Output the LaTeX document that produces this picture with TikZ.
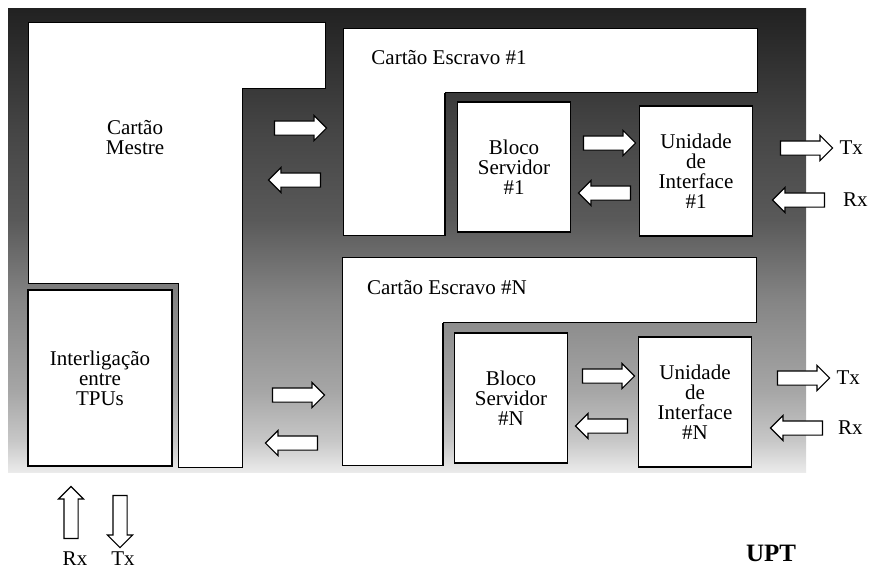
\documentclass[tikz,border=0pt]{standalone}
\usepackage{fontspec}
\setmainfont{Liberation Serif}
\usetikzlibrary{shapes.arrows,positioning}

\pgfdeclareverticalshading{fundo}{100bp}{color(0bp)=(black!8); color(25bp)=(black!8);
  color(28.4bp)=(black!22); color(33.8bp)=(black!35); color(43.5bp)=(black!48);
  color(52.2bp)=(black!65); color(61.9bp)=(black!73); color(75bp)=(black!87); color(100bp)=(black!87)}

\begin{document}
\begin{tikzpicture}[
  x=1pt,y=-1pt,
  card/.style={draw,fill=white,line width=1pt},
  block/.style={draw,fill=white,line width=1.2pt,align=center,minimum width=113pt,minimum height=130pt,font=\fontsize{21}{20}\selectfont},
  txt/.style={align=center,inner sep=1pt,font=\fontsize{21}{20}\selectfont},
  fat/.style={single arrow,draw,fill=white,line width=1.1pt,minimum height=52pt,inner sep=6.5pt,single arrow head extend=5.5pt}
]
\useasboundingbox (0,0) rectangle (869,571);
% fundo
\shade[shading=fundo] (8,8) rectangle (806,472);

% cartao mestre
\draw[card] (28,22) -- (325,22) -- (325,88) -- (242,88) -- (242,467) -- (178,467) -- (178,283) -- (28,283) -- cycle;
\node[txt] (mestre) at (135,138) {Cartão\\Mestre};
\node[block,minimum width=144pt,minimum height=176pt] (tpu) at (100,378) {Interligação\\entre\\TPUs};

% cartoes escravos
\draw[card] (343,28) -- (757,28) -- (757,92) -- (445,92) -- (445,235) -- (343,235) -- cycle;
\draw[line width=2.5pt] (445,93) -- (445,235);
\node[txt] (e1) at (449,58) {Cartão Escravo \#1};
\node[block] (bs1) at (514,167) {Bloco\\Servidor\\\#1};
\node[block] (ui1) at (696,171) {Unidade\\de\\Interface\\\#1};

\draw[card] (342,257) -- (756,257) -- (756,322) -- (443,322) -- (443,465) -- (342,465) -- cycle;
\draw[line width=2.5pt] (443,323) -- (443,465);
\node[txt] (en) at (447,288) {Cartão Escravo \#N};
\node[block] (bsn) at (511,398) {Bloco\\Servidor\\\#N};
\node[block] (uin) at (695,402) {Unidade\\de\\Interface\\\#N};

% setas
\node[fat] (m2e1) at (297,128) {};
\node[fat,shape border rotate=180] (e12m) at (298,180) {};
\node[fat] (s2u1) at (606,143) {};
\node[fat,shape border rotate=180] (u12s) at (608,193) {};
\node[fat] (tx1) at (803,148) {};
\node[fat,shape border rotate=180] (rx1) at (802,200) {};

\node[fat] (m2en) at (295,395) {};
\node[fat,shape border rotate=180] (en2m) at (295,443) {};
\node[fat] (s2un) at (605,376) {};
\node[fat,shape border rotate=180] (un2s) at (605,426) {};
\node[fat] (txn) at (800,378) {};
\node[fat,shape border rotate=180] (rxn) at (800,428) {};

\node[fat,shape border rotate=90] (rxb) at (71,516) {};
\node[fat,shape border rotate=270] (txb) at (120,518) {};

% rotulos
\node[txt,right=5pt of tx1] (ltx1) {Tx};
\node[txt,anchor=west] (lrx1) at (842,200) {Rx};
\node[txt,right=5pt of txn] (ltxn) {Tx};
\node[txt,anchor=west] (lrxn) at (837,428) {Rx};
\node[txt] (lrxb) at (75,559) {Rx};
\node[txt] (ltxb) at (123,559) {Tx};
\node[txt,font=\fontsize{25}{24}\selectfont\bfseries] (upt) at (771,553) {UPT};
\end{tikzpicture}
\end{document}
